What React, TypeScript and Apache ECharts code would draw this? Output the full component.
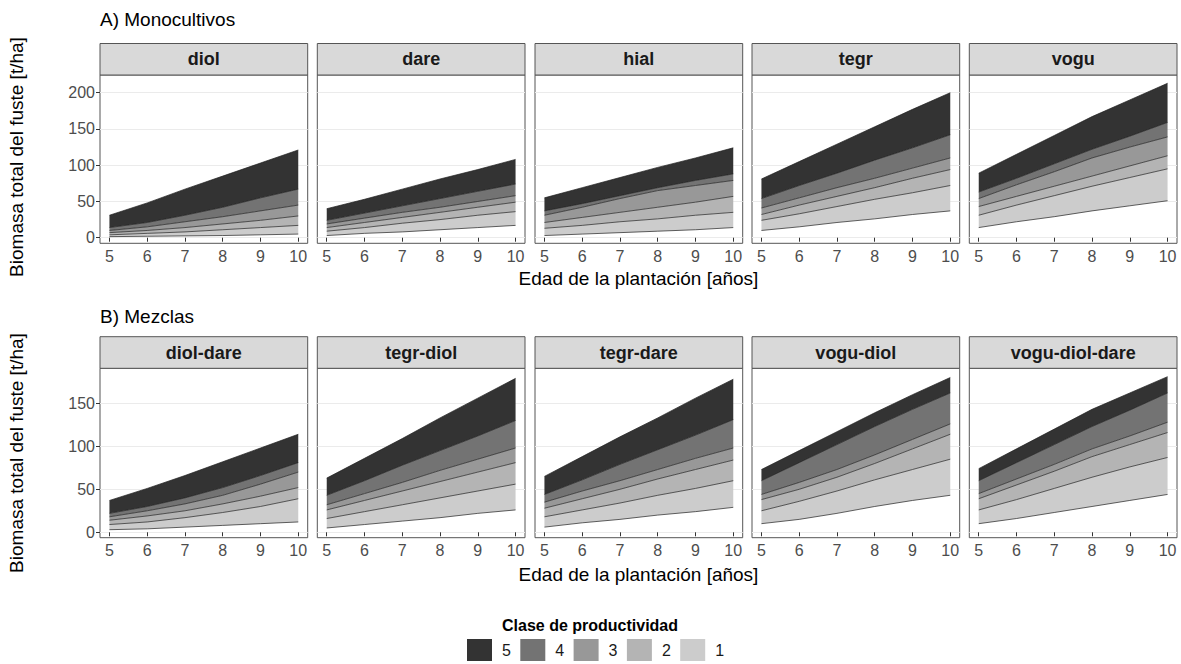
import React, { useEffect, useRef } from "react";
import * as echarts from "echarts";

// ---------------- data ----------------
const AGES = [5, 6, 7, 8, 9, 10];
const CLASSES = ["1", "2", "3", "4", "5"];
const LEGEND_ORDER = ["5", "4", "3", "2", "1"];
const X_TICKS = [5, 6, 7, 8, 9, 10];
const Y_TICKS_MONO = [0, 50, 100, 150, 200];
const Y_TICKS_MIX = [0, 50, 100, 150];

const MONO_NAMES = ["diol", "dare", "hial", "tegr", "vogu"];
const MIX_NAMES = ["diol-dare", "tegr-diol", "tegr-dare", "vogu-diol", "vogu-diol-dare"];

// class boundaries b0..b5 (t/ha) at ages 5..10
const diol = [
  [1.5, 2, 2.5, 3, 4, 5],
  [4, 6, 8, 11, 14, 17],
  [7, 10, 14, 19, 24, 30],
  [10, 15, 22, 29, 37, 45],
  [14, 21, 31, 42, 55, 67],
  [31, 48, 67, 85, 103, 121],
];
const dare = [
  [3, 6, 8, 11, 14, 17],
  [9, 14, 20, 25, 31, 36],
  [14, 21, 28, 35, 42, 49],
  [19, 27, 35, 42, 50, 58],
  [24, 34, 44, 54, 64, 74],
  [40, 53, 67, 81, 94, 108],
];
const hial = [
  [3, 5, 7, 9, 11, 14],
  [13, 17, 22, 26, 31, 35],
  [21, 28, 35, 42, 49, 57],
  [31, 42, 54, 65, 72, 79],
  [37, 47, 58, 69, 79, 88],
  [55, 69, 83, 97, 110, 124],
];
const tegr = [
  [10, 15, 21, 26, 32, 37],
  [24, 33, 43, 53, 62, 72],
  [32, 45, 57, 69, 82, 94],
  [41, 55, 69, 82, 96, 110],
  [54, 72, 89, 107, 124, 142],
  [81, 105, 129, 153, 177, 200],
];
const vogu = [
  [14, 22, 29, 37, 44, 51],
  [31, 45, 58, 71, 83, 95],
  [43, 57, 71, 85, 99, 113],
  [54, 73, 91, 110, 125, 139],
  [63, 82, 102, 122, 140, 159],
  [89, 115, 141, 167, 190, 213],
];
const diolDare = [
  [3, 4, 6, 8, 10, 12],
  [9, 12, 17, 23, 30, 39],
  [14, 19, 25, 33, 42, 52],
  [18, 25, 33, 43, 56, 70],
  [22, 30, 40, 52, 66, 81],
  [37, 51, 66, 82, 98, 114],
];
const tegrDiol = [
  [5, 9, 13, 17, 22, 26],
  [16, 24, 32, 40, 48, 56],
  [26, 37, 48, 59, 70, 81],
  [32, 45, 58, 72, 85, 98],
  [43, 60, 78, 95, 112, 130],
  [63, 86, 109, 133, 156, 179],
];
const tegrDare = [
  [6, 11, 15, 20, 24, 29],
  [18, 26, 34, 43, 51, 60],
  [28, 39, 50, 62, 73, 84],
  [35, 48, 60, 73, 86, 98],
  [44, 61, 79, 96, 113, 131],
  [65, 88, 111, 133, 156, 178],
];
const voguDiol = [
  [10, 15, 22, 30, 37, 43],
  [25, 36, 48, 61, 73, 85],
  [38, 50, 64, 80, 97, 114],
  [44, 58, 73, 90, 108, 126],
  [60, 81, 102, 123, 143, 162],
  [73, 95, 117, 139, 160, 180],
];
const voguDiolDare = [
  [10, 16, 23, 30, 37, 44],
  [26, 38, 51, 64, 76, 87],
  [39, 55, 71, 88, 102, 116],
  [45, 62, 79, 97, 112, 128],
  [60, 81, 102, 123, 142, 162],
  [74, 97, 120, 143, 162, 181],
];

const MONO_DATA = [diol, dare, hial, tegr, vogu];
const MIX_DATA = [diolDare, tegrDiol, tegrDare, voguDiol, voguDiolDare];

// ---------------- styles / layout ----------------
const FILLS = ["#CCCCCC", "#B4B4B4", "#989898", "#737373", "#333333"];
const LINE = "#1f1f1f";
const FONT = "'Liberation Sans', Arial, sans-serif";
const COL_LEFT = [100, 317.3, 535, 752, 969.3];
const PANEL_W = 207.7;
const ROWS = [
  { top: 75, height: 168.3, stripTop: 43.5, yMin: -7.7, yMax: 224.4, ticks: Y_TICKS_MONO, names: MONO_NAMES, data: MONO_DATA, title: "A) Monocultivos", titleY: 19, xTitleY: 278, yTitleY: 157 },
  { top: 368.3, height: 169.4, stripTop: 336.7, yMin: -6.3, yMax: 190.7, ticks: Y_TICKS_MIX, names: MIX_NAMES, data: MIX_DATA, title: "B) Mezclas", titleY: 316, xTitleY: 574, yTitleY: 453 },
];

function buildOption() {
  const grid: any[] = [];
  const xAxis: any[] = [];
  const yAxis: any[] = [];
  const series: any[] = [];
  const graphic: any[] = [];
  let idx = 0;
  ROWS.forEach((row) => {
    row.names.forEach((name, c) => {
      const left = COL_LEFT[c];
      grid.push({
        left,
        top: row.top,
        width: PANEL_W,
        height: row.height,
        show: true,
        borderColor: "#555555",
        borderWidth: 1,
        backgroundColor: "#ffffff",
        containLabel: false,
        outerBoundsMode: "none",
      });
      xAxis.push({
        type: "value",
        gridIndex: idx,
        min: 4.75,
        max: 10.25,
        axisLine: { show: false },
        splitLine: { show: false },
        axisTick: { show: true, length: 4, lineStyle: { color: "#333333", width: 1 }, customValues: X_TICKS },
        axisLabel: { show: true, customValues: X_TICKS, color: "#4d4d4d", fontSize: 16, margin: 5, fontFamily: FONT },
      });
      const first = c === 0;
      yAxis.push({
        type: "value",
        gridIndex: idx,
        min: row.yMin,
        max: row.yMax,
        axisLine: { show: false },
        splitLine: { show: true, lineStyle: { color: "#ebebeb", width: 1 } },
        axisTick: { show: first, length: 4, lineStyle: { color: "#333333", width: 1 }, customValues: row.ticks },
        axisLabel: { show: first, customValues: row.ticks, color: "#4d4d4d", fontSize: 16, margin: 5, fontFamily: FONT },
      });
      const b = row.data[c];
      const stack = "panel" + idx;
      series.push({
        type: "line",
        name: "base",
        xAxisIndex: idx,
        yAxisIndex: idx,
        stack,
        encode: { x: 1, y: 0 },
        data: AGES.map((a, i) => [b[0][i], a]),
        showSymbol: false,
        symbol: "none",
        silent: true,
        lineStyle: { color: LINE, width: 0.7 },
      });
      CLASSES.forEach((cls, k) => {
        series.push({
          type: "line",
          name: cls,
          xAxisIndex: idx,
          yAxisIndex: idx,
          stack,
          encode: { x: 1, y: 0 },
          data: AGES.map((a, i) => [b[k + 1][i] - b[k][i], a]),
          showSymbol: false,
          symbol: "none",
          silent: true,
          color: FILLS[k],
          lineStyle: { color: LINE, width: 0.7 },
          areaStyle: { color: FILLS[k], opacity: 1 },
        });
      });
      // strip
      graphic.push({
        type: "rect",
        shape: { x: left, y: row.stripTop, width: PANEL_W, height: row.top - row.stripTop },
        style: { fill: "#d9d9d9", stroke: "#555555", lineWidth: 1 },
        silent: true,
      });
      graphic.push({
        type: "text",
        x: left + PANEL_W / 2,
        y: (row.stripTop + row.top) / 2,
        style: { text: name, fill: "#1a1a1a", font: `bold 18px ${FONT}`, textAlign: "center", textVerticalAlign: "middle" },
        silent: true,
      });
      idx++;
    });
    graphic.push({
      type: "text",
      x: 100,
      y: row.titleY,
      style: { text: row.title, fill: "#000000", font: `19px ${FONT}`, textAlign: "left", textVerticalAlign: "middle" },
    });
    graphic.push({
      type: "text",
      x: (100 + 1177) / 2,
      y: row.xTitleY,
      style: { text: "Edad de la plantación [años]", fill: "#000000", font: `19px ${FONT}`, textAlign: "center", textVerticalAlign: "middle" },
    });
    graphic.push({
      type: "text",
      x: 16,
      y: row.yTitleY,
      rotation: Math.PI / 2,
      style: { text: "Biomasa total del fuste [t/ha]", fill: "#000000", font: `19px ${FONT}`, textAlign: "center", textVerticalAlign: "middle" },
    });
  });
  graphic.push({
    type: "text",
    x: 590,
    y: 625,
    style: { text: "Clase de productividad", fill: "#000000", font: `bold 16px ${FONT}`, textAlign: "center", textVerticalAlign: "middle" },
  });

  return {
    animation: false,
    backgroundColor: "#ffffff",
    textStyle: { fontFamily: FONT },
    grid,
    xAxis,
    yAxis,
    series,
    graphic,
    legend: {
      show: true,
      left: 462,
      top: 634,
      padding: 5,
      orient: "horizontal",
      itemWidth: 25,
      itemHeight: 22,
      itemGap: 9.4,
      icon: "rect",
      selectedMode: false,
      textStyle: { color: "#1a1a1a", fontSize: 16, fontFamily: FONT, padding: [0, 0, 0, 5] },
      data: LEGEND_ORDER.map((n) => ({
        name: n,
        icon: "rect",
        itemStyle: { color: FILLS[CLASSES.indexOf(n)], borderWidth: 0 },
      })),
    },
  };
}

export default function App() {
  const ref = useRef<HTMLDivElement>(null);
  useEffect(() => {
    if (!ref.current) return;
    const chart = echarts.init(ref.current, undefined, { renderer: "svg" });
    chart.setOption(buildOption() as any);
    return () => chart.dispose();
  }, []);
  return (
    <div
      ref={ref}
      style={{ position: "fixed", left: 0, top: 0, width: 1181, height: 664, background: "#ffffff" }}
    />
  );
}
